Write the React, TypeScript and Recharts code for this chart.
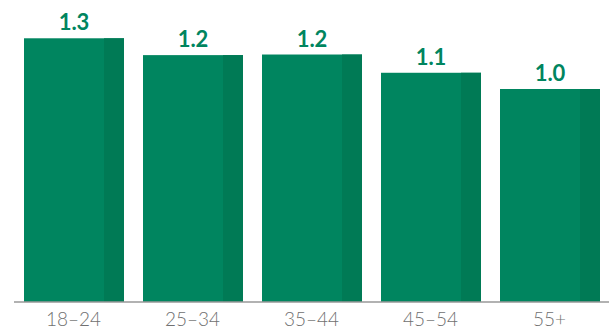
import React from 'react';
import { BarChart, Bar, XAxis, YAxis, LabelList } from 'recharts';

const ageGroups = ['18–24', '25–34', '35–44', '45–54', '55+'];
const values = [1.3, 1.217, 1.22, 1.13, 1.05];
const valueLabels = ['1.3', '1.2', '1.2', '1.1', '1.0'];

const data = ageGroups.map((group, i) => ({
  group,
  value: values[i],
  label: valueLabels[i],
}));

const GREEN = '#00855F';
const DARK_GREEN = '#007A55';

function StripedBar(props: any) {
  const { x, y, width, height } = props;
  if (!height || height <= 0) return null;
  const stripe = width * 0.2;
  return (
    <g>
      <rect x={x} y={y} width={width} height={height} fill={GREEN} />
      <rect x={x + width - stripe} y={y} width={stripe} height={height} fill={DARK_GREEN} />
    </g>
  );
}

export default function App() {
  return (
    <div style={{ position: 'absolute', left: 0, top: 0, background: '#fff' }}>
      <BarChart
        width={609}
        height={331}
        data={data}
        margin={{ top: 18, right: 0, bottom: 0, left: 14 }}
        barSize={100}
      >
        <XAxis
          dataKey="group"
          height={29}
          tickLine={false}
          tickMargin={5}
          stroke="#999999"
          strokeWidth={1.5}
          tick={{ fill: '#707070', fontSize: 19, fontFamily: 'Lato', fontWeight: 300 }}
        />
        <YAxis hide domain={[0, 1.4]} />
        <Bar dataKey="value" shape={<StripedBar />} isAnimationActive={false}>
          <LabelList
            dataKey="label"
            position="top"
            offset={8}
            fill={GREEN}
            fontSize={22}
            fontWeight="bold"
            fontFamily="Lato"
          />
        </Bar>
      </BarChart>
    </div>
  );
}
